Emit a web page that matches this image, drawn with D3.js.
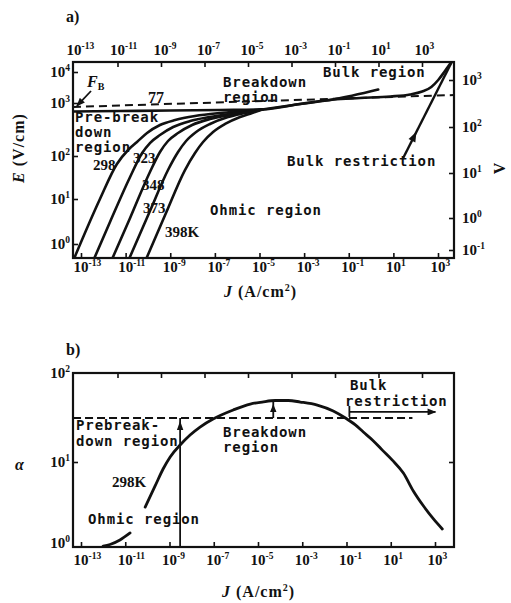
<!DOCTYPE html>
<html>
<head>
<meta charset="utf-8">
<script src="https://cdn.jsdelivr.net/npm/d3@7/dist/d3.min.js"></script>
<style>
  html, body { margin: 0; padding: 0; background: #fff; }
  svg { display: block; }
  .mono { font-family: "DejaVu Sans Mono", monospace; font-size: 14px; font-weight: bold; letter-spacing: 0.9px; fill: #111; }
  .num  { font-family: "Liberation Serif", "Times New Roman", serif; font-weight: bold; font-size: 15px; fill: #111; }
  .ttl  { font-family: "Liberation Serif", "Times New Roman", serif; font-weight: bold; font-size: 16px; letter-spacing: 1px; fill: #111; }
</style>
</head>
<body>
<svg id="fig" width="511" height="603"></svg>
<script>
// ---------------- data ----------------
// decade exponents used on the axes
const jExp   = [-13, -11, -9, -7, -5, -3, -1, 1, 3];   // J (A/cm²), bottom axes
const topExp = [-13, -11, -9, -7, -5, -3, -1, 1, 3];   // top axis of panel a
const eExp   = [0, 1, 2, 3, 4];                          // E (V/cm)
const vExp   = [-1, 0, 1, 2, 3];                         // V
const aExp   = [0, 1, 2];                                // α

// E–J characteristics, pairs of [log10 J, log10 E]
const curve77K = [[-13.49, 2.840], [-11.25, 2.849], [-9.01, 2.858], [-6.77, 2.868], [-4.88, 2.877],
                  [-3.18, 2.981], [-1.70, 3.113], [0.32, 3.435]];
const curve298K = [[-13.58, -0.644], [-12.15, 1.000], [-11.39, 1.814], [-10.89, 2.113], [-10.49, 2.264],
                   [-10.04, 2.434], [-9.46, 2.585], [-8.78, 2.679], [-7.89, 2.755], [-6.77, 2.811],
                   [-5.65, 2.849], [-4.88, 2.877]];
const curve323K = [[-12.69, -0.644], [-11.70, 0.489], [-10.80, 1.512], [-10.26, 2.057], [-9.91, 2.245],
                   [-9.46, 2.396], [-8.87, 2.547], [-8.11, 2.660], [-7.22, 2.736], [-6.09, 2.811],
                   [-4.88, 2.877]];
const curve348K = [[-11.88, -0.644], [-10.80, 0.578], [-9.91, 1.628], [-9.46, 2.075], [-9.10, 2.283],
                   [-8.65, 2.434], [-8.02, 2.585], [-7.22, 2.698], [-6.09, 2.792], [-4.88, 2.877]];
const curve373K = [[-11.12, -0.644], [-9.91, 0.733], [-9.10, 1.674], [-8.65, 2.075], [-8.29, 2.283],
                   [-7.84, 2.453], [-7.22, 2.604], [-6.41, 2.736], [-5.65, 2.811], [-4.88, 2.877]];
const curve398K = [[-10.35, -0.644], [-9.23, 0.644], [-8.34, 1.674], [-7.89, 2.057], [-7.53, 2.264],
                   [-7.08, 2.453], [-6.54, 2.604], [-5.87, 2.736], [-5.33, 2.811], [-4.88, 2.877]];
// common high-current branch (breakdown → bulk region)
const bulkBranch = [[-4.88, 2.877], [-3.18, 2.981], [-1.70, 3.113], [-0.49, 3.161], [0.86, 3.210],
                    [1.75, 3.274], [2.29, 3.371], [2.70, 3.516], [3.01, 3.742], [3.28, 4.000],
                    [3.50, 4.226], [3.77, 4.484]];
// breakdown field F_B (dashed) and bulk-restriction line
const fbLine   = [[-13.36, 2.925], [3.73, 3.258]];
const bulkLine = [[1.44, 1.953], [3.64, 4.355]];

// nonlinearity coefficient α at 298 K, [log10 J, α]; null = break in the trace
const alpha298K = [[-12.00, 0.918], [-11.69, 0.958], [-11.24, 1.09], [-10.78, 1.33], null,
                   [-10.10, 2.78], [-9.65, 5.06], [-9.29, 8.2], [-8.97, 11.4], [-8.52, 15.5],
                   [-8.07, 20.1], [-7.62, 24.7], [-7.03, 30.4], [-6.12, 38.4], [-5.35, 44.8],
                   [-4.81, 47.2], [-4.22, 49.1], [-3.63, 49.1], [-3.09, 47.2], [-2.32, 43.6],
                   [-1.60, 37.4], [-1.05, 31.2], [-0.60, 26.1], [-0.24, 21.7], [0.17, 17.7],
                   [0.62, 13.6], [1.07, 10.5], [1.57, 7.31], [2.02, 4.39], [2.48, 2.86],
                   [2.93, 1.98], [3.33, 1.49]];
const alphaB        = 31.2;                 // dashed level separating pre-breakdown / breakdown
const alphaBSpan    = [-13.36, 1.98];       // log10 J extent of that level
const onsetJ        = -8.52;                // log10 J of the breakdown-onset marker
const peakJ         = -4.31;                // log10 J of the peak marker
const peakAlpha     = 48.4;
const bulkArrowJ    = [-0.87, 3.02];        // extent of the bulk-restriction arrow
const bulkArrowA    = 36.5;

// ---------------- layout ----------------
const A = { left: 73, right: 454, top: 62, bottom: 258 };
const B = { left: 73, right: 454, top: 373, bottom: 547 };
const ink = "#111";

const xA   = d3.scaleLog().domain([1e-13, 1e3]).range([81, 438]);
const xTop = d3.scaleLog().domain([1e-13, 1e3]).range([74, 422]);
const yE   = d3.scaleLog().domain([1, 10, 100, 1e3, 1e4]).range([244, 199, 156, 103, 72]);
const yV   = d3.scaleLog().domain([0.1, 1, 10, 100, 1000]).range([250, 218, 173, 127, 80]);
const xB   = d3.scaleLog().domain([1e-13, 1e3]).range([81, 435]);
const yA   = d3.scaleLog().domain([1, 10, 100]).range([543, 462, 373]);

const svg = d3.select("#fig");
const defs = svg.append("defs");
defs.append("clipPath").attr("id", "clipA").append("rect")
  .attr("x", A.left).attr("y", A.top).attr("width", A.right - A.left).attr("height", A.bottom - A.top);
defs.append("clipPath").attr("id", "clipB").append("rect")
  .attr("x", B.left).attr("y", B.top).attr("width", B.right - B.left).attr("height", B.bottom - B.top);
defs.append("marker").attr("id", "head").attr("viewBox", "0 0 10 8")
  .attr("refX", 9).attr("refY", 4).attr("markerWidth", 10).attr("markerHeight", 7)
  .attr("markerUnits", "userSpaceOnUse").attr("orient", "auto")
  .append("path").attr("d", "M0,0L10,4L0,8Z").attr("fill", ink);

// "10" with a superscript exponent
function powLabel(g, x, y, e, anchor) {
  const t = g.append("text").attr("class", "num").attr("x", x).attr("y", y).attr("text-anchor", anchor);
  t.append("tspan").text("10");
  t.append("tspan").attr("dy", -6).style("font-size", "9.5px").text(e < 0 ? "-" + Math.abs(e) : String(e));
}
function styleAxis(g) {
  g.select(".domain").remove();
  g.selectAll(".tick line").attr("stroke", ink).attr("stroke-width", 1.6);
  g.selectAll(".tick text").remove();
}
function frame(g, P) {
  g.append("rect").attr("x", P.left).attr("y", P.top)
    .attr("width", P.right - P.left).attr("height", P.bottom - P.top)
    .attr("fill", "none").attr("stroke", ink).attr("stroke-width", 2.2);
}
function tri(g, x, y, angle, len, half) {
  g.append("path").attr("d", `M0,0L${-len},${-half}L${-len},${half}Z`)
    .attr("transform", `translate(${x},${y}) rotate(${angle})`).attr("fill", ink);
}
function mono(g, x, y, s) {
  g.append("text").attr("class", "mono").attr("x", x).attr("y", y).text(s);
}
function num(g, x, y, s, size) {
  g.append("text").attr("class", "num").attr("x", x).attr("y", y).style("font-size", (size || 15) + "px").text(s);
}
function jTitle(g, x, y) {
  const t = g.append("text").attr("class", "ttl").attr("x", x).attr("y", y);
  t.append("tspan").style("font-style", "italic").text("J");
  t.append("tspan").text(" (A/cm");
  t.append("tspan").attr("dy", -6).style("font-size", "10px").text("2");
  t.append("tspan").attr("dy", 6).text(")");
}

// ================= panel a : E–J =================
const ga = svg.append("g");
const p10 = v => 10 ** v;

// axes (ticks pointing inward)
ga.append("g").attr("transform", `translate(0,${A.bottom})`)
  .call(d3.axisBottom(xA).tickValues(jExp.map(p10)).tickSize(-5).tickFormat(() => "")).call(styleAxis);
ga.append("g").attr("transform", `translate(0,${A.top})`)
  .call(d3.axisTop(xTop).tickValues(topExp.slice(1).map(p10)).tickSize(-5).tickFormat(() => "")).call(styleAxis);
ga.append("g").attr("transform", `translate(${A.left},0)`)
  .call(d3.axisLeft(yE).tickValues(eExp.map(p10)).tickSize(-5).tickFormat(() => "")).call(styleAxis);
ga.append("g").attr("transform", `translate(${A.right},0)`)
  .call(d3.axisRight(yV).tickValues(vExp.map(p10)).tickSize(-5).tickFormat(() => "")).call(styleAxis);

jExp.forEach(e => powLabel(ga, xA(p10(e)) - 7.5, 272, e, "start"));
topExp.forEach(e => powLabel(ga, xTop(p10(e)) - 7.5, 55, e, "start"));
eExp.forEach(e => powLabel(ga, 70, yE(p10(e)) + 5, e, "end"));
vExp.forEach(e => powLabel(ga, 462, yV(p10(e)) + 5, e, "start"));

const plotA = ga.append("g").attr("clip-path", "url(#clipA)");
const lineA = d3.line().x(d => xA(p10(d[0]))).y(d => yE(p10(d[1]))).curve(d3.curveMonotoneX);
const lineStraightA = d3.line().x(d => xA(p10(d[0]))).y(d => yE(p10(d[1])));

plotA.append("path").attr("d", lineStraightA(fbLine)).attr("fill", "none")
  .attr("stroke", ink).attr("stroke-width", 2).attr("stroke-dasharray", "8,5");
[curve77K, curve298K, curve323K, curve348K, curve373K, curve398K, bulkBranch].forEach(c => {
  plotA.append("path").attr("d", lineA(c)).attr("fill", "none")
    .attr("stroke", ink).attr("stroke-width", 2.6).attr("stroke-linejoin", "round").attr("stroke-linecap", "round");
});
plotA.append("path").attr("d", lineStraightA(bulkLine)).attr("fill", "none")
  .attr("stroke", ink).attr("stroke-width", 2.4);
{
  const p0 = [xA(p10(bulkLine[0][0])), yE(p10(bulkLine[0][1]))];
  const p1 = [xA(p10(bulkLine[1][0])), yE(p10(bulkLine[1][1]))];
  const t = 0.27;
  const ang = Math.atan2(p1[1] - p0[1], p1[0] - p0[0]) * 180 / Math.PI;
  tri(ga, p0[0] + t * (p1[0] - p0[0]), p0[1] + t * (p1[1] - p0[1]), ang, 10, 3.8);
}
frame(ga, A);

// F_B pointer
{
  const tipX = xA(p10(fbLine[0][0])) + 4, tipY = yE(p10(fbLine[0][1])) - 1;
  ga.append("line").attr("x1", 91).attr("y1", 91).attr("x2", tipX).attr("y2", tipY)
    .attr("stroke", ink).attr("stroke-width", 1.8).attr("marker-end", "url(#head)");
  const f = ga.append("text").attr("class", "num").attr("x", 87).attr("y", 87).style("font-size", "16px");
  f.append("tspan").style("font-style", "italic").text("F");
  f.append("tspan").attr("dy", 3).style("font-size", "10px").text("B");
}

ga.append("text").attr("class", "num").attr("x", 66).attr("y", 22).style("font-size", "16px").text("a)");
num(ga, 148, 103, "77", 16);
num(ga, 93, 170, "298", 15);
num(ga, 133, 163, "323", 15);
num(ga, 142, 190, "348", 15);
num(ga, 143, 213, "373", 15);
num(ga, 165, 237, "398K", 15);
mono(ga, 223, 87, "Breakdown");
mono(ga, 223, 102, "region");
mono(ga, 323, 77, "Bulk region");
mono(ga, 75, 122, "Pre-break");
mono(ga, 75, 137, "down");
mono(ga, 75, 152, "region");
mono(ga, 210, 215, "Ohmic region");
mono(ga, 287, 166, "Bulk restriction");
jTitle(ga, 224, 297);
{
  const t = ga.append("text").attr("class", "ttl").attr("text-anchor", "middle")
    .attr("transform", "translate(24,148) rotate(-90)");
  t.append("tspan").style("font-style", "italic").text("E");
  t.append("tspan").text(" (V/cm)");
  ga.append("text").attr("class", "ttl").attr("text-anchor", "middle")
    .attr("transform", "translate(505,168) rotate(-90)").text("V");
}

// ================= panel b : α–J =================
const gb = svg.append("g");
gb.append("g").attr("transform", `translate(0,${B.bottom})`)
  .call(d3.axisBottom(xB).tickValues(jExp.map(p10)).tickSize(-5).tickFormat(() => "")).call(styleAxis);
gb.append("g").attr("transform", `translate(0,${B.top})`)
  .call(d3.axisTop(xTop).tickValues(topExp.slice(1).map(p10)).tickSize(-5).tickFormat(() => "")).call(styleAxis);
gb.append("g").attr("transform", `translate(${B.left},0)`)
  .call(d3.axisLeft(yA).tickValues([10]).tickSize(-5).tickFormat(() => "")).call(styleAxis);
gb.append("g").attr("transform", `translate(${B.right},0)`)
  .call(d3.axisRight(yA).tickValues([10]).tickSize(-5).tickFormat(() => "")).call(styleAxis);

jExp.forEach(e => powLabel(gb, xB(p10(e)) - 7.5, 565, e, "start"));
aExp.forEach(e => powLabel(gb, 70, yA(p10(e)) + 5, e, "end"));

const plotB = gb.append("g").attr("clip-path", "url(#clipB)");
plotB.append("line")
  .attr("x1", xB(p10(alphaBSpan[0]))).attr("x2", xB(p10(alphaBSpan[1])))
  .attr("y1", yA(alphaB)).attr("y2", yA(alphaB))
  .attr("stroke", ink).attr("stroke-width", 2).attr("stroke-dasharray", "8,4");
const lineB = d3.line().defined(d => d !== null)
  .x(d => xB(p10(d[0]))).y(d => yA(d[1])).curve(d3.curveMonotoneX);
plotB.append("path").attr("d", lineB(alpha298K)).attr("fill", "none")
  .attr("stroke", ink).attr("stroke-width", 2.8).attr("stroke-linecap", "round");

// breakdown-onset marker
{
  const x = xB(p10(onsetJ));
  gb.append("line").attr("x1", x).attr("x2", x).attr("y1", B.bottom).attr("y2", yA(alphaB))
    .attr("stroke", ink).attr("stroke-width", 1.8);
  tri(gb, x, yA(alphaB) + 3, -90, 9, 3.2);
}
// peak marker
{
  const x = xB(p10(peakJ));
  gb.append("line").attr("x1", x).attr("x2", x).attr("y1", yA(alphaB)).attr("y2", yA(peakAlpha))
    .attr("stroke", ink).attr("stroke-width", 1.8);
  tri(gb, x, yA(peakAlpha) + 3, -90, 8, 3.2);
}
// bulk-restriction arrow
{
  const y = yA(bulkArrowA), x0 = xB(p10(bulkArrowJ[0])), x1 = xB(p10(bulkArrowJ[1]));
  gb.append("line").attr("x1", x0).attr("x2", x1).attr("y1", y).attr("y2", y)
    .attr("stroke", ink).attr("stroke-width", 1.8).attr("marker-end", "url(#head)");
  gb.append("line").attr("x1", x0).attr("x2", x0).attr("y1", y - 6).attr("y2", y + 5)
    .attr("stroke", ink).attr("stroke-width", 1.8);
}
frame(gb, B);

gb.append("text").attr("class", "num").attr("x", 66).attr("y", 355).style("font-size", "16px").text("b)");
mono(gb, 76, 430, "Prebreak-");
mono(gb, 76, 446, "down region");
mono(gb, 223, 437, "Breakdown");
mono(gb, 223, 452, "region");
mono(gb, 350, 390, "Bulk");
mono(gb, 345, 406, "restriction");
num(gb, 112, 487, "298K", 15);
mono(gb, 88, 524, "Ohmic region");
jTitle(gb, 222, 597);
gb.append("text").attr("class", "ttl").attr("text-anchor", "middle")
  .style("font-style", "italic").attr("x", 20).attr("y", 470).text("α");
</script>
</body>
</html>
